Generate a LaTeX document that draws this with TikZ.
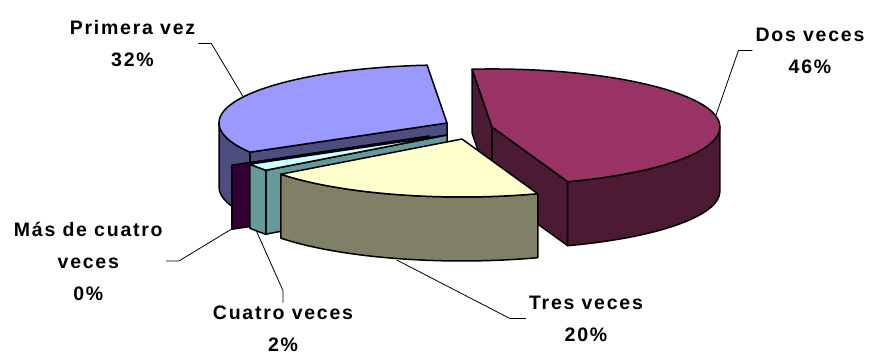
\documentclass[tikz,border=0pt]{standalone}
\usepackage{fontspec}
\setmainfont{Liberation Sans}[LetterSpace=9]
\definecolor{priTop}{HTML}{9999FF}
\definecolor{priSide}{HTML}{4D4D80}
\definecolor{dosTop}{HTML}{993366}
\definecolor{dosSide}{HTML}{4D1A33}
\definecolor{tresTop}{HTML}{FFFFCC}
\definecolor{tresSide}{HTML}{808066}
\definecolor{cuaTop}{HTML}{CCFFFF}
\definecolor{cuaSide}{HTML}{669999}
\definecolor{masSide}{HTML}{330033}
\begin{document}
\begin{tikzpicture}[x=1pt,y=1pt,
  pie/.style={x radius=228pt,y radius=58pt},
  face/.style={draw=black,line width=1.5pt,line join=round},
  lbl/.style={font=\fontsize{19.5}{32}\selectfont\bfseries,align=center,inner sep=3pt},
  leader/.style={draw,line width=0.8pt}]
\useasboundingbox (0,0) rectangle (869,356);

% Primera vez
\coordinate (pPri) at (447,233);
\path[face,fill=priSide] (pPri) -- (249.9,203.8) -- ++(0,-64) -- (447,169) -- cycle;
\path[face,fill=priSide] (219,233) arc[pie,start angle=180,end angle=210.2] -- ++(0,-64) arc[pie,start angle=210.2,end angle=180] -- cycle;
\path[face,fill=priTop] (pPri) -- (427.1,290.8) arc[pie,start angle=95,end angle=210.2] -- cycle;

% Dos veces
\coordinate (pDos) at (492,229);
\path[face,fill=dosSide] (pDos) -- (472.1,286.8) -- ++(0,-64) -- (492,165) -- cycle;
\path[face,fill=dosSide] (pDos) -- (567.7,174.3) -- ++(0,-64) -- (492,165) -- cycle;
\path[face,fill=dosSide] (567.7,174.3) arc[pie,start angle=-70.6,end angle=0] -- ++(0,-64) arc[pie,start angle=0,end angle=-70.6] -- cycle;
\path[face,fill=dosTop] (pDos) -- (472.1,286.8) arc[pie,start angle=95,end angle=-70.6] -- cycle;

% Mas de cuatro veces
\coordinate (pMas) at (429,220);
\path[face,fill=masSide] (pMas) -- (231.9,190.8) -- ++(0,-64) -- (429,156) -- cycle;

% Cuatro veces
\coordinate (pCua) at (447,221);
\path[face,fill=cuaSide] (pCua) -- (265.9,185.8) -- ++(0,-64) -- (447,157) -- cycle;
\path[face,fill=cuaSide] (249.9,191.8) arc[pie,start angle=-149.8,end angle=-142.6] -- ++(0,-64) arc[pie,start angle=-142.6,end angle=-149.8] -- cycle;
\path[face,fill=cuaTop] (pCua) -- (265.9,185.8) arc[pie,start angle=-142.6,end angle=-149.8] -- cycle;

% Tres veces
\coordinate (pTres) at (462,217);
\path[face,fill=tresSide] (280.9,181.8) arc[pie,start angle=-142.6,end angle=-70.6] -- ++(0,-64) arc[pie,start angle=-70.6,end angle=-142.6] -- cycle;
\path[face,fill=tresTop] (pTres) -- (537.7,162.3) arc[pie,start angle=-70.6,end angle=-142.6] -- cycle;

% labels
\coordinate (aPri) at (242.7,260);
\coordinate (aDos) at (716,241);
\coordinate (aTres) at (396.7,96);
\coordinate (aCua) at (256.7,124.3);
\coordinate (aMas) at (231.7,127);

\node[lbl] (lPri) at (132.5,312.5) {Primera vez\\32\%};
\node[lbl] (lDos) at (810,305.5) {Dos veces\\46\%};
\node[lbl] (lTres) at (586,37.5) {Tres veces\\20\%};
\node[lbl] (lCua) at (283,27.3) {Cuatro veces\\2\%};
\node[lbl] (lMas) at (88.3,95) {Más de cuatro\\veces\\0\%};

\path[leader] (lPri.east) -- ++(13,0) -- (aPri);
\path[leader] (lDos.west) -- ++(-14,0) -- (aDos);
\path[leader] (lTres.west) -- ++(-16,0) -- (aTres);
\path[leader] (lCua.north) -- ++(0,12) -- (aCua);
\path[leader] (lMas.east) -- ++(13,0) -- (aMas);
\end{tikzpicture}
\end{document}
